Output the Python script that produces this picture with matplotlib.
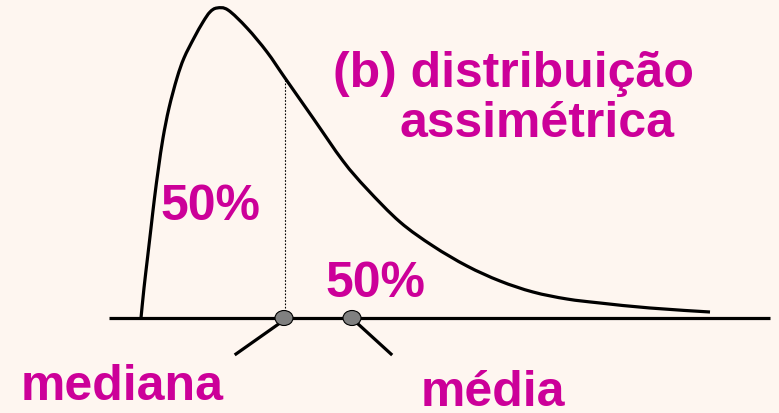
import matplotlib
matplotlib.use("Agg")
from matplotlib import pyplot as plt
from matplotlib.patches import Ellipse, PathPatch
from matplotlib.path import Path

# skewed distribution sketch, heights measured up from the baseline
curve_x = [141, 144, 147.5, 151, 154.5, 158.5, 163, 169, 177, 184, 194, 203, 210, 217,
           228, 247, 267, 285, 313, 343, 367, 400, 433, 467, 500, 533, 567, 600, 650, 710]
curve_h = [0, 30, 60, 90, 120, 150, 180, 210, 240, 260, 280, 296, 306, 310,
           308, 290, 266, 240, 200, 157, 129, 96, 72, 52, 37, 26, 19, 15, 10, 6]

median_x = 284
median_h = 240
mean_x = 352

title_lines = ["(b) distribuição", "assimétrica"]
pct_labels = ["50%", "50%"]
marker_labels = ["mediana", "média"]

bg = "#fef6f0"
magenta = "#cc0099"


def smooth_path(xs, ys):
    # catmull-rom through the points, written as cubic bezier segments
    pts = list(zip(xs, ys))
    verts = [pts[0]]
    codes = [Path.MOVETO]
    for i in range(len(pts) - 1):
        p0 = pts[i - 1] if i > 0 else pts[i]
        p1 = pts[i]
        p2 = pts[i + 1]
        p3 = pts[i + 2] if i + 2 < len(pts) else pts[i + 1]
        c1 = (p1[0] + (p2[0] - p0[0]) / 6, p1[1] + (p2[1] - p0[1]) / 6)
        c2 = (p2[0] - (p3[0] - p1[0]) / 6, p2[1] - (p3[1] - p1[1]) / 6)
        verts += [c1, c2, p2]
        codes += [Path.CURVE4] * 3
    return Path(verts, codes)


fig = plt.figure(figsize=(7.79, 4.13), dpi=100, facecolor=bg)
ax = fig.add_axes([0, 0, 1, 1])
ax.set_facecolor(bg)
ax.set_xlim(0, 779)
ax.set_ylim(-95, 318)
ax.axis("off")

# baseline and curve
ax.plot([109, 770], [0, 0], color="black", lw=2.3, solid_capstyle="butt", zorder=2)
ax.add_patch(PathPatch(smooth_path(curve_x, curve_h), facecolor="none",
                       edgecolor="black", lw=2.3, zorder=3))

# median drop line
ax.plot([median_x + 1, median_x + 1], [0, median_h], color="black", lw=0.8,
        linestyle=(0, (1.5, 1.5)), zorder=2)

# pointers to median and mean
ax.plot([280, 236], [-5, -36], color="black", lw=2.3, zorder=3)
ax.plot([357, 391], [-5, -36], color="black", lw=2.3, zorder=3)
for mx in [median_x, mean_x]:
    ax.add_patch(Ellipse((mx, 0), 18, 15, facecolor="#808080", edgecolor="black",
                         lw=0.8, zorder=4))

font = dict(family="Liberation Sans", weight="bold", size=36, color=magenta,
            ha="left", va="baseline")
ax.text(333, 231, title_lines[0], **font)
ax.text(400, 181, title_lines[1], **font)
ax.text(160, 98, pct_labels[0], **font)
ax.text(325, 21, pct_labels[1], **font)
ax.text(21, -82, marker_labels[0], **font)
ax.text(421, -88, marker_labels[1], **font)

fig.savefig("out.png", dpi=100, facecolor=bg)
